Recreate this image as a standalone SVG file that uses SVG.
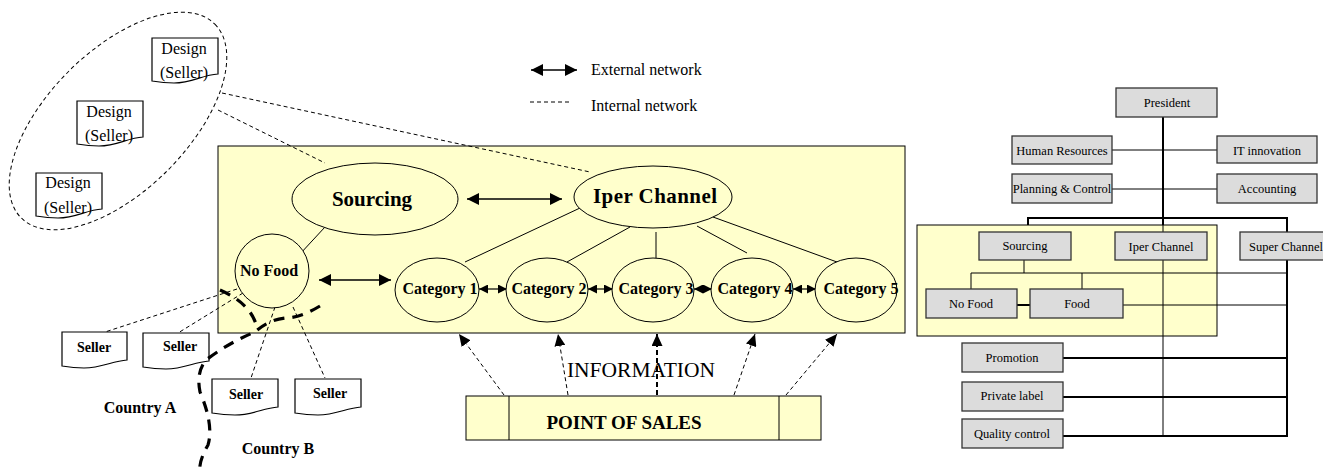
<svg xmlns="http://www.w3.org/2000/svg" width="1323" height="474" viewBox="0 0 1323 474">
<style>
text{font-family:"Liberation Serif","Times New Roman",serif;fill:#000}
.b{font-weight:bold}
.yel{fill:#FFFFCC;stroke:#000;stroke-width:1}
.ell{fill:#FFFFCC;stroke:#000;stroke-width:1}
.doc{fill:#fff;stroke:#000;stroke-width:1.2}
.gbox{fill:#DCDCDC;stroke:#333;stroke-width:1.3}
.ln{stroke:#000;stroke-width:1;fill:none}
.lt{stroke:#000;stroke-width:2;fill:none}
.dash{stroke:#000;stroke-width:1;stroke-dasharray:4,3;fill:none}
.thick{stroke:#000;stroke-width:3.2;stroke-dasharray:11,8;fill:none}
.org{font-size:12.5px}
</style>
<defs>
<marker id="ah" viewBox="0 0 12 12" refX="12" refY="6" markerWidth="12" markerHeight="12" markerUnits="userSpaceOnUse" orient="auto-start-reverse">
<path d="M0,0 L12,6 L0,12 Z" fill="#000"/>
</marker>
<marker id="as" viewBox="0 0 9 9" refX="9" refY="4.5" markerWidth="9" markerHeight="9" markerUnits="userSpaceOnUse" orient="auto-start-reverse">
<path d="M0,0 L9,4.5 L0,9 Z" fill="#000"/>
</marker>
<marker id="ad" viewBox="0 0 12 11" refX="12" refY="5.5" markerWidth="12" markerHeight="11" markerUnits="userSpaceOnUse" orient="auto">
<path d="M0,0 L12,5.5 L0,11 Z" fill="#000"/>
</marker>
</defs>

<!-- main yellow area -->
<rect id="mainArea" class="yel" x="218" y="146" width="687" height="187"/>

<!-- legend -->
<g id="legend">
<line x1="531" y1="70" x2="577" y2="70" stroke="#000" stroke-width="1.5" marker-start="url(#ah)" marker-end="url(#ah)"/>
<text x="591" y="75" font-size="16">External network</text>
<line x1="530" y1="102" x2="572" y2="102" class="dash"/>
<text x="591" y="111" font-size="16">Internal network</text>
</g>

<!-- design group -->
<g id="designGroup">
<ellipse cx="118" cy="121" rx="137" ry="70" transform="rotate(-45 118 121)" fill="none" stroke="#000" stroke-width="1" stroke-dasharray="4,3"/>
<g id="design1">
<path class="doc" d="M152,38 H218 V74 C202,75 192,83 174,83 C164,83 158,82 152,81 Z"/>
<text x="184" y="54" font-size="16" text-anchor="middle">Design</text>
<text x="184" y="78" font-size="16" text-anchor="middle">(Seller)</text>
</g>
<g id="design2">
<path class="doc" d="M77,101 H143 V137 C127,138 117,146 99,146 C89,146 83,145 77,144 Z"/>
<text x="109" y="117" font-size="16" text-anchor="middle">Design</text>
<text x="109" y="141" font-size="16" text-anchor="middle">(Seller)</text>
</g>
<g id="design3">
<path class="doc" d="M36,173 H102 V209 C86,210 76,218 58,218 C48,218 42,217 36,216 Z"/>
<text x="68" y="188" font-size="16" text-anchor="middle">Design</text>
<text x="68" y="213" font-size="16" text-anchor="middle">(Seller)</text>
</g>
</g>

<!-- connectors -->
<g id="connectors">
<line class="dash" x1="222" y1="93" x2="590" y2="172"/>
<line class="dash" x1="218" y1="110" x2="325" y2="163"/>
<line x1="467" y1="199" x2="562" y2="199" stroke="#000" stroke-width="1.5" marker-start="url(#ah)" marker-end="url(#ah)"/>
<line x1="319" y1="280" x2="391" y2="280" stroke="#000" stroke-width="1.5" marker-start="url(#ah)" marker-end="url(#ah)"/>
<line class="ln" x1="325" y1="227" x2="300" y2="254"/>
<line class="ln" x1="580" y1="208" x2="465" y2="262"/>
<line class="ln" x1="630" y1="227" x2="567" y2="262"/>
<line class="ln" x1="656" y1="232" x2="656" y2="258"/>
<line class="ln" x1="697" y1="226" x2="747" y2="253"/>
<line class="ln" x1="713" y1="217" x2="837" y2="262"/>
<line x1="479" y1="289" x2="507" y2="289" stroke="#000" stroke-width="1.2" marker-start="url(#as)" marker-end="url(#as)"/>
<line x1="588" y1="289" x2="613" y2="289" stroke="#000" stroke-width="1.2" marker-start="url(#as)" marker-end="url(#as)"/>
<line x1="694" y1="289" x2="712" y2="289" stroke="#000" stroke-width="1.2" marker-start="url(#as)" marker-end="url(#as)"/>
<line x1="793" y1="289" x2="816" y2="289" stroke="#000" stroke-width="1.2" marker-start="url(#as)" marker-end="url(#as)"/>
<line class="dash" x1="504" y1="395" x2="459" y2="334" marker-end="url(#ad)"/>
<line class="dash" x1="568" y1="395" x2="558" y2="334" marker-end="url(#ad)"/>
<line x1="657" y1="395" x2="657" y2="334" stroke="#000" stroke-width="2" stroke-dasharray="5,3" marker-end="url(#ad)"/>
<line class="dash" x1="734" y1="395" x2="755" y2="334" marker-end="url(#ad)"/>
<line class="dash" x1="786" y1="395" x2="837" y2="334" marker-end="url(#ad)"/>
<line class="dash" x1="237" y1="289" x2="102" y2="333"/>
<line class="dash" x1="243" y1="293" x2="178" y2="333"/>
<line class="dash" x1="275" y1="307" x2="251" y2="378"/>
<line class="dash" x1="293" y1="307" x2="325" y2="378"/>
</g>

<!-- nodes in main area -->
<g id="sourcing"><ellipse class="ell" cx="375" cy="199" rx="83" ry="36"/><text class="b" x="372" y="206" font-size="21" text-anchor="middle">Sourcing</text></g>
<g id="iperChannel"><ellipse class="ell" cx="653" cy="197" rx="79" ry="31"/><text class="b" x="655" y="203" font-size="21" text-anchor="middle" textLength="124" lengthAdjust="spacing">Iper Channel</text></g>
<g id="noFood"><circle class="ell" cx="272" cy="271" r="37"/><text class="b" x="269" y="276" font-size="16" text-anchor="middle">No Food</text></g>
<g id="cat1"><ellipse class="ell" cx="437" cy="290" rx="42" ry="32"/><text class="b" x="440" y="294" font-size="16" text-anchor="middle">Category 1</text></g>
<g id="cat2"><ellipse class="ell" cx="547" cy="290" rx="41" ry="32"/><text class="b" x="549" y="294" font-size="16" text-anchor="middle">Category 2</text></g>
<g id="cat3"><ellipse class="ell" cx="653" cy="290" rx="41" ry="32"/><text class="b" x="656" y="294" font-size="16" text-anchor="middle">Category 3</text></g>
<g id="cat4"><ellipse class="ell" cx="752" cy="290" rx="41" ry="32"/><text class="b" x="755" y="294" font-size="16" text-anchor="middle">Category 4</text></g>
<g id="cat5"><ellipse class="ell" cx="856" cy="290" rx="41" ry="32"/><text class="b" x="861" y="294" font-size="16" text-anchor="middle">Category 5</text></g>

<!-- sellers -->
<g id="seller1"><path class="doc" d="M62,332 H127 V360 C112,361 102,368 84,368 C74,368 68,367 62,366 Z"/><text class="b" x="94" y="352" font-size="14" text-anchor="middle">Seller</text></g>
<g id="seller2"><path class="doc" d="M143,333 H209 V361 C194,362 184,369 166,369 C156,369 149,368 143,367 Z"/><text class="b" x="180" y="351" font-size="14" text-anchor="middle">Seller</text></g>
<g id="seller3"><path class="doc" d="M212,379 H278 V407 C263,408 253,415 235,415 C225,415 218,414 212,413 Z"/><text class="b" x="246" y="399" font-size="14" text-anchor="middle">Seller</text></g>
<g id="seller4"><path class="doc" d="M295,379 H361 V407 C346,408 336,415 318,415 C308,415 301,414 295,413 Z"/><text class="b" x="330" y="398" font-size="14" text-anchor="middle">Seller</text></g>

<!-- country border -->
<g id="countryBorder">
<path class="thick" d="M220,290 Q252,304 257,328"/>
<path class="thick" d="M320,306 Q300,318 285,318 Q268,320 255,332 Q230,342 206,360 Q196,372 200,392 Q214,425 208,445 Q198,462 200,474"/>
<text class="b" x="140" y="413" font-size="16" text-anchor="middle">Country A</text>
<text class="b" x="278" y="454" font-size="16" text-anchor="middle">Country B</text>
</g>

<!-- point of sales -->
<g id="pointOfSales">
<rect class="yel" x="466" y="396" width="355" height="44"/>
<line class="ln" x1="509" y1="396" x2="509" y2="440"/>
<line class="ln" x1="779" y1="396" x2="779" y2="440"/>
<text class="b" x="624" y="429" font-size="19" text-anchor="middle">POINT OF SALES</text>
</g>
<text id="information" x="641" y="377" font-size="21.5" text-anchor="middle">INFORMATION</text>

<!-- org chart -->
<g id="orgConnectors">
<line class="lt" x1="1163" y1="117" x2="1163" y2="232"/>
<line class="ln" x1="1112" y1="150" x2="1217" y2="150"/>
<line class="ln" x1="1112" y1="189" x2="1217" y2="189"/>
<polyline class="lt" points="1028,232 1028,218 1287,218 1287,232"/>
<line class="ln" x1="1024" y1="260" x2="1024" y2="273"/>
<line class="ln" x1="971" y1="273" x2="1287" y2="273"/>
<line class="ln" x1="971" y1="273" x2="971" y2="289"/>
<line class="ln" x1="1082" y1="273" x2="1082" y2="289"/>
<line class="ln" x1="1163" y1="260" x2="1163" y2="437"/>
<line class="lt" x1="1287" y1="260" x2="1287" y2="437"/>
<line class="lt" x1="1017" y1="305" x2="1030" y2="305"/>
<line class="ln" x1="1123" y1="305" x2="1287" y2="305"/>
<line class="lt" x1="1063" y1="358" x2="1287" y2="358"/>
<line class="lt" x1="1063" y1="397" x2="1287" y2="397"/>
<line class="lt" x1="1063" y1="436" x2="1287" y2="436"/>
</g>
<rect id="orgArea" class="yel" x="917" y="225" width="300" height="111" fill-opacity="1"/>
<g id="orgLinesInArea">
<line class="ln" x1="1024" y1="260" x2="1024" y2="273"/>
<line class="ln" x1="971" y1="273" x2="1217" y2="273"/>
<line class="ln" x1="971" y1="273" x2="971" y2="289"/>
<line class="ln" x1="1082" y1="273" x2="1082" y2="289"/>
<line class="ln" x1="1163" y1="225" x2="1163" y2="336"/>
<line class="lt" x1="1017" y1="305" x2="1030" y2="305"/>
<line class="ln" x1="1123" y1="305" x2="1217" y2="305"/>
</g>
<g id="president"><rect class="gbox" x="1116" y="88" width="101" height="29"/><text class="org" x="1167" y="107" text-anchor="middle">President</text></g>
<g id="humanResources"><rect class="gbox" x="1012" y="136" width="100" height="28"/><text class="org" x="1062" y="155" text-anchor="middle">Human Resources</text></g>
<g id="itInnovation"><rect class="gbox" x="1217" y="136" width="100" height="27"/><text class="org" x="1267" y="155" text-anchor="middle">IT innovation</text></g>
<g id="planningControl"><rect class="gbox" x="1012" y="174" width="100" height="29"/><text class="org" x="1062" y="193" text-anchor="middle">Planning &amp; Control</text></g>
<g id="accounting"><rect class="gbox" x="1217" y="174" width="100" height="29"/><text class="org" x="1267" y="193" text-anchor="middle">Accounting</text></g>
<g id="orgSourcing"><rect class="gbox" x="979" y="232" width="92" height="28"/><text class="org" x="1025" y="250" text-anchor="middle">Sourcing</text></g>
<g id="orgIperChannel"><rect class="gbox" x="1115" y="232" width="92" height="28"/><text class="org" x="1161" y="251" text-anchor="middle">Iper Channel</text></g>
<g id="orgSuperChannel"><rect class="gbox" x="1240" y="232" width="90" height="28"/><text class="org" x="1286" y="251" text-anchor="middle">Super Channel</text></g>
<g id="orgNoFood"><rect class="gbox" x="926" y="289" width="91" height="29"/><text class="org" x="971" y="308" text-anchor="middle">No Food</text></g>
<g id="orgFood"><rect class="gbox" x="1030" y="289" width="93" height="29"/><text class="org" x="1077" y="308" text-anchor="middle">Food</text></g>
<g id="promotion"><rect class="gbox" x="962" y="343" width="101" height="29"/><text class="org" x="1012" y="362" text-anchor="middle">Promotion</text></g>
<g id="privateLabel"><rect class="gbox" x="962" y="382" width="101" height="29"/><text class="org" x="1012" y="400" text-anchor="middle">Private label</text></g>
<g id="qualityControl"><rect class="gbox" x="962" y="419" width="101" height="29"/><text class="org" x="1012" y="438" text-anchor="middle">Quality control</text></g>
</svg>
